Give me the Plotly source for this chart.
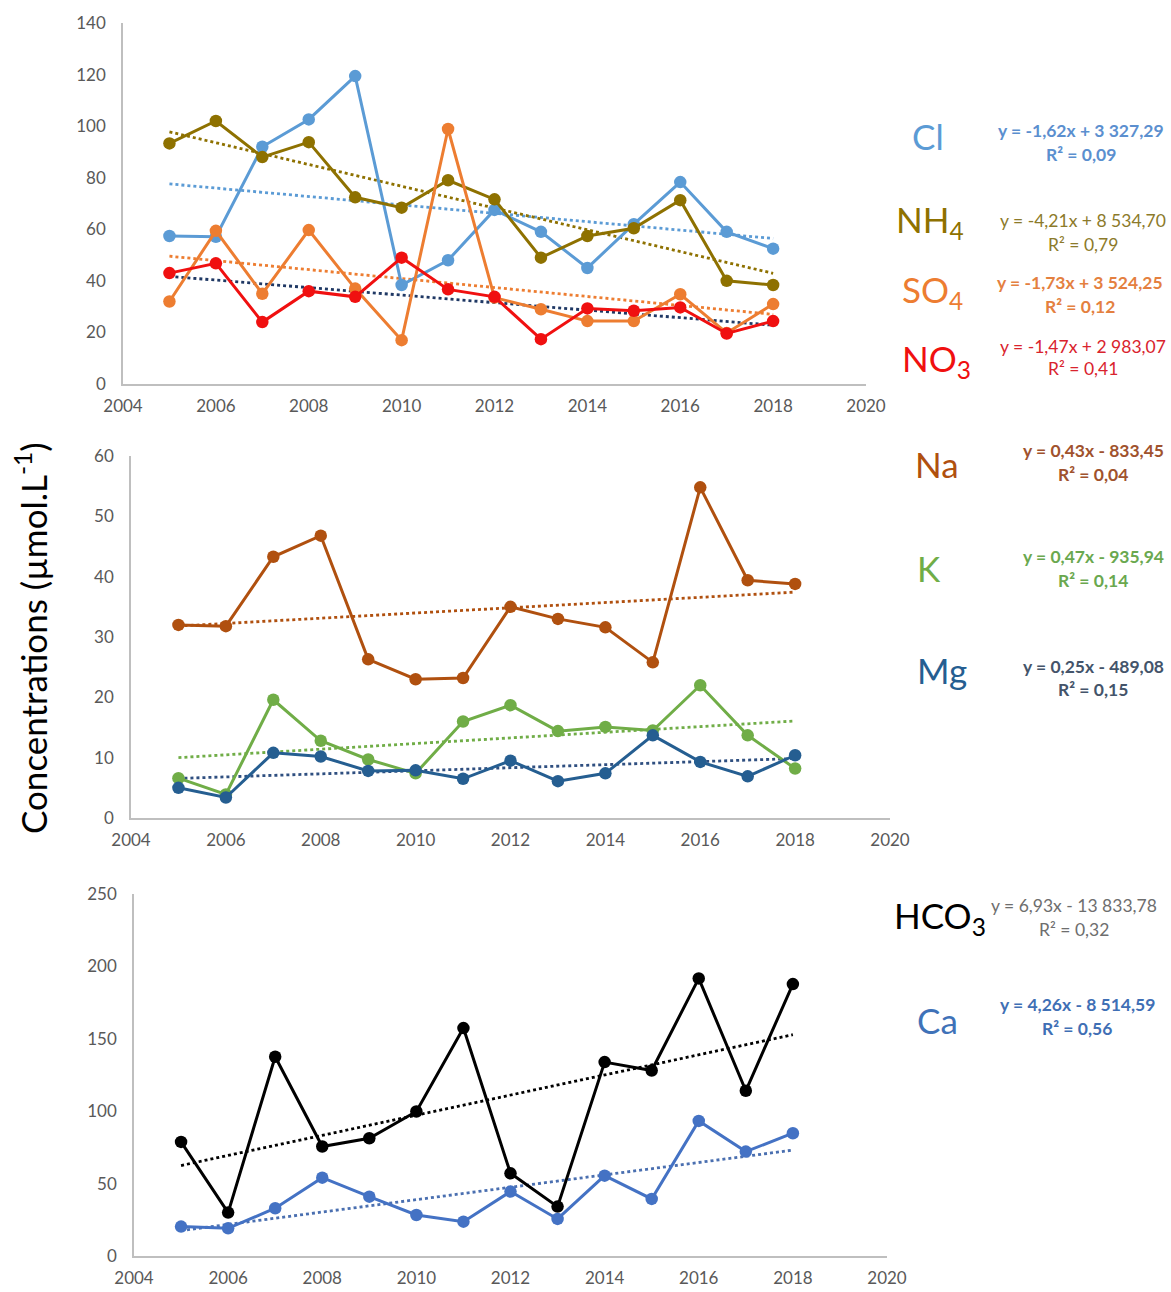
import numpy as np
import plotly.graph_objects as go

years = [2005, 2006, 2007, 2008, 2009, 2010, 2011, 2012, 2013, 2014, 2015, 2016, 2017, 2018]

# Panel 1
cl  = [57.4, 57.1, 92.0, 102.6, 119.4, 38.4, 48.0, 67.5, 59.0, 45.0, 62.0, 78.3, 59.0, 52.5]
nh4 = [93.3, 102.0, 88.0, 93.8, 72.4, 68.4, 79.0, 71.6, 49.0, 57.4, 60.4, 71.3, 40.0, 38.4]
so4 = [32.0, 59.4, 35.0, 59.7, 37.0, 17.0, 98.9, 33.5, 29.0, 24.4, 24.4, 34.8, 19.8, 31.0]
no3 = [43.0, 46.8, 24.0, 36.0, 33.8, 49.0, 36.7, 33.8, 17.4, 29.3, 28.4, 29.7, 19.6, 24.4]
# Panel 2
na  = [32.0, 31.8, 43.3, 46.8, 26.3, 23.0, 23.2, 35.0, 33.0, 31.6, 25.8, 54.8, 39.4, 38.8]
k   = [6.6, 3.9, 19.6, 12.8, 9.7, 7.4, 16.0, 18.7, 14.4, 15.1, 14.5, 22.0, 13.7, 8.2]
mg  = [5.0, 3.4, 10.8, 10.2, 7.8, 7.9, 6.5, 9.5, 6.1, 7.4, 13.7, 9.3, 6.9, 10.4]
# Panel 3
hco3 = [78.8, 30.0, 137.6, 75.6, 81.3, 99.8, 157.4, 57.1, 34.1, 133.9, 128.1, 191.7, 114.1, 187.8]
ca   = [20.3, 19.1, 33.0, 54.1, 41.0, 28.3, 23.7, 44.5, 25.6, 55.5, 39.4, 93.3, 72.1, 84.8]

x_ticks = [2004, 2006, 2008, 2010, 2012, 2014, 2016, 2018, 2020]

W, H = 1171, 1292
FONT = "Lato"

fig = go.Figure()

series = [
    # (values, color, trend color, axis index)
    (cl,  "#5B9BD5", "#5B9BD5", 1),
    (nh4, "#8E7100", "#8E7100", 1),
    (so4, "#ED7D31", "#ED7D31", 1),
    (no3, "#F01010", "#1F3864", 1),
    (na,  "#B0500F", "#B0500F", 2),
    (k,   "#70AD47", "#70AD47", 2),
    (mg,  "#255E91", "#2F4F80", 2),
    (hco3, "#000000", "#000000", 3),
    (ca,  "#4472C4", "#4A6FB0", 3),
]

# trend lines first (drawn beneath)
for vals, col, tcol, ax in series:
    slope, icpt = np.polyfit(years, vals, 1)
    xs = [years[0], years[-1]]
    ys = [slope * xv + icpt for xv in xs]
    suf = "" if ax == 1 else str(ax)
    fig.add_trace(go.Scatter(x=xs, y=ys, mode="lines",
                             line=dict(color=tcol, width=2.8, dash="dot"),
                             xaxis="x" + suf, yaxis="y" + suf, showlegend=False,
                             hoverinfo="skip"))

for vals, col, tcol, ax in series:
    suf = "" if ax == 1 else str(ax)
    fig.add_trace(go.Scatter(x=years, y=vals, mode="lines+markers",
                             line=dict(color=col, width=3),
                             marker=dict(color=col, size=12.5),
                             xaxis="x" + suf, yaxis="y" + suf, showlegend=False))

def px_x(p):
    return p / W

def px_y(p):
    return 1 - p / H

axis_common = dict(showgrid=False, zeroline=False, showline=True, linecolor="#BFBFBF",
                   linewidth=1.5, ticks="", automargin=False,
                   tickfont=dict(family=FONT, size=17, color="#595959"))

panels = [
    # x0, x1, ytop, ybottom, ymax, dtick
    (123, 866, 23, 384, 140, 20),
    (131, 890, 456, 818, 60, 10),
    (134, 887, 894, 1256, 250, 50),
]
layout_axes = {}
for i, (x0, x1, yt, yb, ymax, dt) in enumerate(panels, start=1):
    suf = "" if i == 1 else str(i)
    layout_axes["xaxis" + suf] = dict(domain=[px_x(x0), px_x(x1)], range=[2004, 2020],
                                      tickvals=x_ticks, anchor="y" + suf,
                                      ticklabelstandoff=6, **axis_common)
    layout_axes["yaxis" + suf] = dict(domain=[px_y(yb), px_y(yt)], range=[0, ymax],
                                      dtick=dt, tick0=0, anchor="x" + suf,
                                      ticklabelstandoff=12, **axis_common)

fig.update_layout(width=W, height=H, margin=dict(l=0, r=0, t=0, b=0, autoexpand=False),
                  paper_bgcolor="white", plot_bgcolor="white", showlegend=False,
                  **layout_axes)

# Annotations: ion labels and equations
ions = [
    ("Cl", 928, 136, "#5B9BD5"),
    ("NH<sub>4</sub>", 930, 222, "#8E7100"),
    ("SO<sub>4</sub>", 932, 292, "#ED7D31"),
    ("NO<sub>3</sub>", 936, 360, "#F01010"),
    ("Na", 937, 464, "#B0500F"),
    ("K", 929, 568, "#70AD47"),
    ("Mg", 942, 670, "#255E91"),
    ("HCO<sub>3</sub>", 940, 917, "#000000"),
    ("Ca", 937, 1020, "#3F72B8"),
]
for txt, xp, yp, col in ions:
    fig.add_annotation(text=txt, x=px_x(xp), y=px_y(yp), xref="paper", yref="paper",
                       showarrow=False, xanchor="center", yanchor="middle",
                       font=dict(family=FONT, size=35, color=col))

eqs = [
    ("y = -1,62x + 3 327,29", "R² = 0,09", 1081, 130, 154, "#5B8FCF", True),
    ("y = -4,21x + 8 534,70", "R² = 0,79", 1083, 221, 245, "#8C7A2A", False),
    ("y = -1,73x + 3 524,25", "R² = 0,12", 1080, 283, 307, "#E4803F", True),
    ("y = -1,47x + 2 983,07", "R² = 0,41", 1083, 346, 369, "#D9232D", False),
    ("y = 0,43x - 833,45", "R² = 0,04", 1093, 450, 474, "#A0522D", True),
    ("y = 0,47x - 935,94", "R² = 0,14", 1093, 556, 580, "#6AA84F", True),
    ("y = 0,25x - 489,08", "R² = 0,15", 1093, 666, 690, "#44546A", True),
    ("y = 6,93x - 13 833,78", "R² = 0,32", 1074, 905, 929, "#6E6E6E", False),
    ("y = 4,26x - 8 514,59", "R² = 0,56", 1077, 1004, 1028, "#3F6FB5", True),
]
for eq, r2, xc, y1, y2, col, bold in eqs:
    for t, yy in ((eq, y1), (r2, y2)):
        s = "<b>" + t + "</b>" if bold else t
        fig.add_annotation(text=s, x=px_x(xc), y=px_y(yy), xref="paper", yref="paper",
                           showarrow=False, xanchor="center", yanchor="middle",
                           font=dict(family=FONT, size=17.5, color=col))

fig.add_annotation(text="Concentrations (µmol.L<sup>-1</sup>)", x=px_x(31), y=px_y(638),
                   xref="paper", yref="paper", showarrow=False, textangle=-90,
                   xanchor="center", yanchor="middle",
                   font=dict(family=FONT, size=35, color="#000000"))

fig.write_html("out.html", config={"displayModeBar": False},
               post_script="document.body.style.margin='0px';document.body.style.overflow='hidden';")
